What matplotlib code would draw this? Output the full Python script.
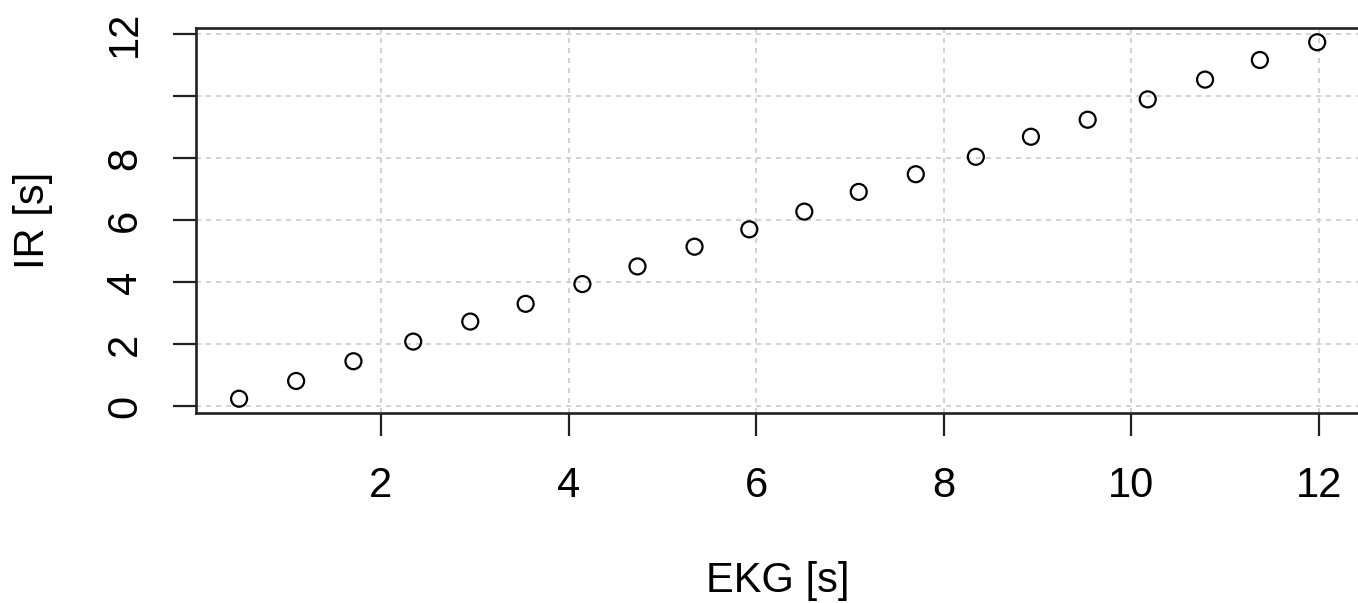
import matplotlib
matplotlib.use('Agg')
from matplotlib import pyplot as plt

# EKG vs IR timings (seconds)
ekg = [0.489, 1.097, 1.708, 2.345, 2.953, 3.543, 4.148, 4.735, 5.343, 5.927,
       6.513, 7.093, 7.701, 8.341, 8.928, 9.533, 10.173, 10.784, 11.368, 11.979]
ir = [0.236, 0.809, 1.446, 2.080, 2.726, 3.299, 3.936, 4.505, 5.142, 5.702,
      6.274, 6.911, 7.481, 8.043, 8.690, 9.240, 9.897, 10.534, 11.167, 11.740]

x_ticks = [2, 4, 6, 8, 10, 12]
y_ticks = [0, 2, 4, 6, 8, 10, 12]
y_tick_labels = ['0', '2', '4', '6', '8', '', '12']

plt.rcParams['font.family'] = ['Liberation Sans', 'DejaVu Sans']

fig = plt.figure(figsize=(13.58, 6.03), dpi=100)
ax = fig.add_axes([0.1443, 0.3151, 1.0017 - 0.1443, 0.9536 - 0.3151])

ax.grid(True, color='#cccccc', linestyle=(0, (3.0, 3.0)), linewidth=1.2)
ax.set_axisbelow(True)
ax.scatter(ekg, ir, s=11.5 ** 2, facecolors='none', edgecolors='black',
           linewidths=1.6, zorder=3)

# R-style 4% padding around the data range
xr = max(ekg) - min(ekg)
yr = max(ir) - min(ir)
ax.set_xlim(min(ekg) - 0.04 * xr, max(ekg) + 0.04 * xr)
ax.set_ylim(min(ir) - 0.04 * yr, max(ir) + 0.04 * yr)

ax.set_xticks(x_ticks)
ax.set_yticks(y_ticks)
ax.set_yticklabels(y_tick_labels, rotation=90, va='center')

ax.tick_params(axis='both', direction='out', length=16.5, width=1.6,
               labelsize=30, color='#222222')
ax.tick_params(axis='x', pad=22)
ax.tick_params(axis='y', pad=20)

for s in ax.spines.values():
    s.set_linewidth(1.9)
    s.set_color('#222222')

ax.set_xlabel('EKG [s]', fontsize=30)
ax.set_ylabel('IR [s]', fontsize=30)
ax.xaxis.set_label_coords(0.5, -0.385)
ax.yaxis.set_label_coords(-0.123, 0.5)

fig.savefig('out.png', dpi=100)
